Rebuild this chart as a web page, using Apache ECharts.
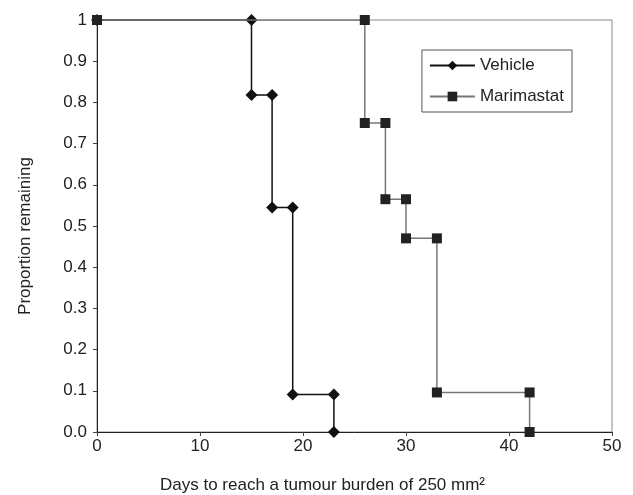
<!DOCTYPE html>
<html>
<head>
<meta charset="utf-8">
<title>Proportion remaining</title>
<script src="https://cdn.jsdelivr.net/npm/echarts@6/dist/echarts.min.js"></script>
<style>
  html, body { margin: 0; padding: 0; background: #fff; }
  #main { width: 633px; height: 495px; }
</style>
</head>
<body>
<div id="main"></div>
<script>
// step vertices (days, proportion)
var vehicleDays = [0, 15, 15, 17, 17, 19, 19, 23, 23];
var vehicleProp = [1, 1, 0.818, 0.818, 0.545, 0.545, 0.091, 0.091, 0];
var marimastatDays = [0, 26, 26, 28, 28, 30, 30, 33, 33, 42, 42];
var marimastatProp = [1, 1, 0.75, 0.75, 0.565, 0.565, 0.47, 0.47, 0.096, 0.096, 0];
var xTicks = [0, 10, 20, 30, 40, 50];

function pairs(xs, ys) {
  var out = [];
  for (var i = 0; i < xs.length; i++) out.push([xs[i], ys[i]]);
  return out;
}

var chart = echarts.init(document.getElementById('main'));
var font = 'Liberation Sans, Arial, sans-serif';

var option = {
  animation: false,
  backgroundColor: '#fff',
  grid: {
    left: 97, right: 21, top: 20, bottom: 63,
    outerBoundsMode: 'none',
    show: true, borderColor: '#888', borderWidth: 1
  },
  legend: {
    right: 61, top: 50,
    orient: 'vertical',
    borderColor: '#555', borderWidth: 1,
    padding: [7, 8, 7, 7],
    itemGap: 14,
    itemWidth: 45, itemHeight: 12,
    textStyle: { fontFamily: font, fontSize: 17, color: '#222' },
    data: ['Vehicle', 'Marimastat']
  },
  xAxis: {
    type: 'value',
    min: xTicks[0], max: xTicks[xTicks.length - 1], interval: 10,
    name: 'Days to reach a tumour burden of 250 mm²',
    nameLocation: 'middle', nameGap: 45,
    nameTextStyle: { fontFamily: font, fontSize: 17, color: '#222', padding: [0, 64, 0, 0] },
    axisLine: { lineStyle: { color: '#222', width: 1 } },
    axisTick: { show: true, length: 4, lineStyle: { color: '#444' } },
    axisLabel: { fontFamily: font, fontSize: 17, color: '#222', margin: 6 },
    splitLine: { show: false }
  },
  yAxis: {
    type: 'value',
    min: 0, max: 1, interval: 0.1,
    name: 'Proportion remaining',
    nameLocation: 'middle', nameGap: 63,
    nameTextStyle: { fontFamily: font, fontSize: 17, color: '#222', padding: [0, 20, 0, 0] },
    axisLine: { show: true, lineStyle: { color: '#222', width: 1 } },
    axisTick: { show: true, length: 4, lineStyle: { color: '#444' } },
    axisLabel: {
      fontFamily: font, fontSize: 17, color: '#222', margin: 10,
      formatter: function (v) { return v === 1 ? '1' : v.toFixed(1); }
    },
    splitLine: { show: false }
  },
  series: [
    {
      name: 'Vehicle',
      type: 'line',
      data: pairs(vehicleDays, vehicleProp),
      symbol: 'diamond', symbolSize: 12,
      lineStyle: { color: '#111', width: 1.5 },
      itemStyle: { color: '#111' },
      z: 2
    },
    {
      name: 'Marimastat',
      type: 'line',
      data: pairs(marimastatDays, marimastatProp),
      symbol: 'rect', symbolSize: 10,
      lineStyle: { color: '#777', width: 1.5 },
      itemStyle: { color: '#222' },
      z: 3
    }
  ]
};

chart.setOption(option);
</script>
</body>
</html>
